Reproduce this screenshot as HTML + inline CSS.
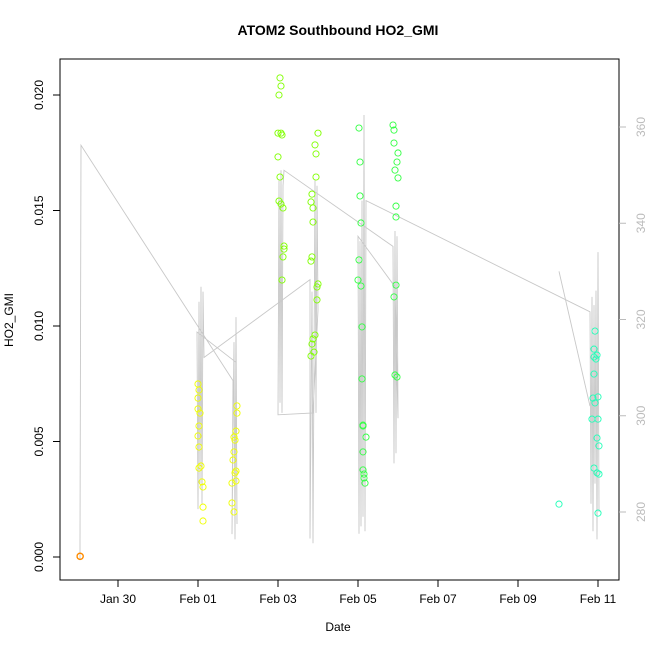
<!DOCTYPE html>
<html><head><meta charset="utf-8"><style>
body{margin:0;background:#fff}
svg{display:block;font-family:"Liberation Sans",Arial,sans-serif}
</style></head><body>
<svg id="chart" width="650" height="650" viewBox="0 0 650 650">
<text x="338" y="35" text-anchor="middle" font-size="14" font-weight="bold">ATOM2 Southbound HO2_GMI</text>
<rect x="60" y="59" width="559" height="521" fill="none" stroke="#000"/>
<text x="338" y="631" text-anchor="middle" font-size="12">Date</text>
<text transform="translate(13,320) rotate(-90)" text-anchor="middle" font-size="12">HO2_GMI</text>
<g id="xaxis"></g>
<g id="yaxis"></g>
<g id="y2axis"></g>
<g id="lines"></g>
<g id="points"></g>
</svg>
<script>
// x axis: days since Jan 30 00:00
const xTickLabels=["Jan 30","Feb 01","Feb 03","Feb 05","Feb 07","Feb 09","Feb 11"];
const xTickDays=[0,2,4,6,8,10,12];
const yTicks=[0,0.005,0.010,0.015,0.020];
const yTickLabels=["0.000","0.005","0.010","0.015","0.020"];
const y2Ticks=[280,300,320,340,360];
// scatter series
const ptDays=[-0.95,-0.95,-0.95,-0.94,
2.0,2.025,2.0,2.0,2.05,2.025,2.0,2.025,2.075,2.025,2.1,2.125,2.125,2.125,
2.975,2.975,2.95,2.9,2.925,2.9,2.875,2.95,2.925,2.85,2.95,2.85,2.9,
4.05,4.075,4.025,4.0,4.075,4.1,4.0,4.05,4.025,4.075,4.125,4.15,4.15,4.125,4.1,
5.0,4.925,4.95,4.95,4.85,4.825,4.875,4.875,4.85,4.825,5.0,4.975,4.975,4.925,4.875,4.85,4.9,4.825,
6.025,6.05,6.05,6.075,6.025,6.0,6.075,6.1,6.1,6.125,6.125,6.2,6.125,6.125,6.15,6.15,6.175,
6.875,6.9,6.9,7.0,6.975,6.925,7.0,6.95,6.95,6.95,6.9,6.925,6.975,
11.025,
11.925,11.9,11.975,11.9,11.95,11.9,12.0,11.875,11.925,12.0,11.85,11.975,12.025,11.9,11.975,12.025,12.0];
const ptValues=[0.00004,0.00003,0.00002,0.00003,
0.00749,0.00723,0.00688,0.00641,0.00623,0.00567,0.00524,0.00476,0.00394,0.00385,0.00325,0.00303,0.00216,0.00156,
0.00654,0.00623,0.00545,0.00519,0.00506,0.00455,0.0042,0.00372,0.00364,0.0032,0.00329,0.00234,0.00195,
0.02074,0.02039,0.0200,0.01835,0.01835,0.01827,0.01732,0.01645,0.01541,0.01528,0.01511,0.01346,0.01333,0.01299,0.01199,
0.01835,0.01784,0.01745,0.01645,0.01571,0.01537,0.01511,0.0145,0.01299,0.01281,0.01182,0.01169,0.01113,0.00961,0.00944,0.00922,0.00887,0.0087,
0.01857,0.0171,0.01563,0.01446,0.01286,0.01199,0.01173,0.00996,0.00771,0.00571,0.00567,0.00519,0.00455,0.00377,0.00359,0.00342,0.0032,
0.0187,0.01848,0.01792,0.01749,0.0171,0.01675,0.01641,0.01519,0.01472,0.01177,0.01126,0.00788,0.00779,
0.00229,
0.00978,0.009,0.00874,0.00866,0.00857,0.00792,0.00693,0.00688,0.00667,0.00597,0.00597,0.00515,0.00481,0.00385,0.00364,0.00359,0.0019];
const ptGroups=[0,0,0,0, 1,1,1,1,1,1,1,1,1,1,1,1,1,1, 1,1,1,1,1,1,1,1,1,1,1,1,1,
2,2,2,2,2,2,2,2,2,2,2,2,2,2,2, 2,2,2,2,2,2,2,2,2,2,2,2,2,2,2,2,2,2,
3,3,3,3,3,3,3,3,3,3,3,3,3,3,3,3,3, 3,3,3,3,3,3,3,3,3,3,3,3,3, 4, 4,4,4,4,4,4,4,4,4,4,4,4,4,4,4,4,4];
const groupColors=["#FF8C00","#F0FF00","#80FF00","#33FF44","#22FFB8"];
// grey altitude line (null = break)
const lineDays=[-0.95,-0.95,-0.925,2.875,2.85,2.9,2.925,2.95,2.975,2.95,1.975,2.0,2.025,2.05,2.075,2.1,2.125,2.15,
4.8,4.8,4.85,4.875,4.925,4.95,4.975,5.0,4.875,4.0,4.025,4.05,4.075,4.1,4.125,4.15,
6.875,6.9,6.925,6.95,6.975,7.0,6.925,6.0,6.025,6.05,6.075,6.1,6.125,6.15,6.175,6.2,
11.8,11.825,11.85,11.875,11.9,11.925,11.95,11.975,12.0,12.025,null,11.025,11.8];
const lineAlt=[270,273.3,356.2,307.3,275.4,315.3,274.3,320.5,277.5,311.1,317.4,280.6,323.7,285.9,326.8,281.7,325.8,312.1,
328.3,274.5,325.8,273.5,348.9,300.6,347.8,322,300.6,300.2,348.9,302.7,351.0,300.6,347.8,351.0,
335.2,290.1,338.4,292.2,337.3,299.5,326.8,337.3,275.5,336.3,277,344.7,279,362.5,276,344.7,
321.6,281.7,324.7,276,323,285.9,326,274.3,334,280,null,330,302];

const sx=d=>118+40*d;
const sy=v=>557-v*23100;
const sy2=a=>512-(a-280)*4.8125;
const NS="http://www.w3.org/2000/svg";
function mk(tag,attrs,parent){const e=document.createElementNS(NS,tag);for(const k in attrs)e.setAttribute(k,attrs[k]);parent.appendChild(e);return e;}

const xa=document.getElementById('xaxis');
xTickDays.forEach((d,i)=>{
  const t=mk('line',{x1:sx(d),x2:sx(d),y1:580,y2:587,stroke:'#000'},xa);
  
  
  const l=mk('text',{x:sx(d),y:603,'text-anchor':'middle','font-size':12},xa);
  l.textContent=xTickLabels[i];
  
  
});
const ya=document.getElementById('yaxis');
yTicks.forEach((v,i)=>{
  const t=mk('line',{x1:53,x2:60,y1:sy(v),y2:sy(v),stroke:'#000'},ya);
  
  
  const l=mk('text',{transform:`translate(43,${sy(v)}) rotate(-90)`,'text-anchor':'middle','font-size':12},ya);
  l.textContent=yTickLabels[i];
  
  
});
const y2=document.getElementById('y2axis');
y2Ticks.forEach(a=>{
  const t=mk('line',{x1:619,x2:626,y1:sy2(a),y2:sy2(a),stroke:'#bbb'},y2);
  
  
  const l=mk('text',{transform:`translate(645,${sy2(a)}) rotate(-90)`,'text-anchor':'middle','font-size':12,fill:'#bbb'},y2);
  l.textContent=a;
  
  
});
const lg=document.getElementById('lines');
let segs=[],cur=[];
lineDays.forEach((d,i)=>{if(d===null){if(cur.length)segs.push(cur);cur=[];}else cur.push(sx(d).toFixed(1)+','+sy2(lineAlt[i]).toFixed(1));});
if(cur.length)segs.push(cur);
segs.forEach(s=>{
  const p=mk('polyline',{points:s.join(' '),fill:'none',stroke:'#c8c8c8','stroke-width':0.9},lg);
  
  
});
const pg=document.getElementById('points');
ptDays.forEach((d,i)=>{
  const c=mk('circle',{cx:sx(d),cy:sy(ptValues[i]),r:3.1,fill:'none',stroke:groupColors[ptGroups[i]],'stroke-width':0.9},pg);
  
  
});
</script>
</body></html>
